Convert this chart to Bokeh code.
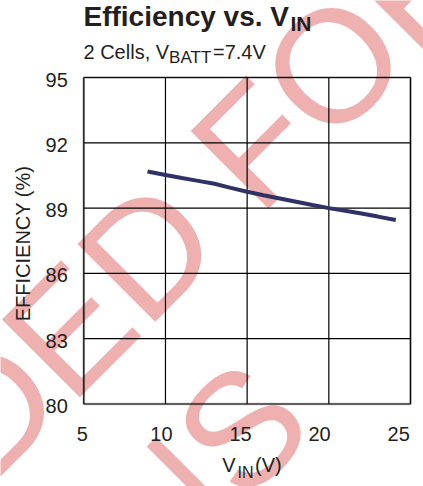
import math
from bokeh.plotting import figure
from bokeh.models import Label, Range1d, FixedTicker, LinearAxis, BoxAnnotation
from bokeh.embed import file_html
from bokeh.resources import INLINE

# ---- data ----
vin = [8.9, 10, 11, 12, 13, 14, 15, 16, 17, 18, 19, 20, 21, 22, 23, 24.1]
eff = [90.68, 90.52, 90.38, 90.25, 90.12, 89.93, 89.75, 89.59, 89.44, 89.29,
       89.14, 89.0, 88.88, 88.75, 88.61, 88.45]
x_ticks = [5, 10, 15, 20, 25]
y_ticks = [80, 83, 86, 89, 92, 95]

title_main = "Efficiency vs. V"
title_sub = "IN"
subtitle_a = "2 Cells, V"
subtitle_b = "BATT"
subtitle_c = "=7.4V"
xlabel_a = "V"
xlabel_b = "IN"
xlabel_c = "(V)"
ylabel = "EFFICIENCY (%)"
watermark_1 = "RECOMMENDED FOR"
watermark_2 = "NEW DESIGNS"

# ---- layout (canvas pixels) ----
W, H = 423, 486
FL, FR, FT, FB = 83.3, 410, 77, 403.5      # chart box inside the canvas
X0, X1, Y0, Y1 = 5, 25, 80, 95
FONT = "Liberation Sans"
INK = "#231f20"
MID = 0.3465          # distance from baseline to text middle, in em


def dx(px):
    return X0 + (px - FL) * (X1 - X0) / (FR - FL)


def dy(py):
    return Y1 - (py - FT) * (Y1 - Y0) / (FB - FT)


p = figure(width=W, height=H,
           x_range=Range1d(dx(0), dx(W)), y_range=Range1d(dy(H), dy(0)),
           output_backend="svg", toolbar_location=None,
           x_axis_location=None, y_axis_location=None, title_location=None,
           min_border=0)
p.min_border_left = p.min_border_right = p.min_border_top = p.min_border_bottom = 0
p.background_fill_color = "white"
p.border_fill_color = "white"
p.outline_line_color = None
p.xgrid.visible = False
p.ygrid.visible = False

# tick-label scales (labels in the original sit slightly off their grid lines)
XL_C, XL_P, XL_S = 15, 240.0, 15.82     # value, pixel, pixels per unit
YL_SHIFT = 2.0
p.extra_x_ranges = {"xlab": Range1d(XL_C + (0 - XL_P) / XL_S, XL_C + (W - XL_P) / XL_S)}
p.extra_y_ranges = {"ylab": Range1d(dy(H - YL_SHIFT), dy(0 - YL_SHIFT))}

# watermark (behind everything), rotated 45 degrees; anchor = text middle
WM_SIZE = 160
wm_off = MID * WM_SIZE / math.sqrt(2)
for txt, bx, by in ((watermark_1, 497.4, -21.4), (watermark_2, 318.1, 429.5)):
    p.add_layout(Label(x=dx(bx - wm_off), y=dy(by - wm_off), text=txt,
                       angle=math.pi / 4, text_align="right", text_baseline="middle",
                       text_font=FONT, text_font_size=f"{WM_SIZE}px",
                       text_color="#efb0b0", level="image"))

# grid lines at the tick values
p.segment(x0=x_ticks, y0=Y0, x1=x_ticks, y1=Y1, line_color="black", line_width=1.2)
p.segment(x0=X0, y0=y_ticks, x1=X1, y1=y_ticks, line_color="black", line_width=1.2)

# data line
p.line(vin, eff, line_color="#2f3264", line_width=4)

# chart box
p.add_layout(BoxAnnotation(left=X0, right=X1, bottom=Y0, top=Y1,
                           fill_color=None, line_color="#1a1a1a", line_width=2.6))

# axes fixed at the chart box edges
xax = LinearAxis(fixed_location=Y0, x_range_name="xlab", ticker=FixedTicker(ticks=x_ticks))
yax = LinearAxis(fixed_location=X0, y_range_name="ylab", ticker=FixedTicker(ticks=y_ticks))
for ax in (xax, yax):
    ax.axis_line_color = None
    ax.major_tick_line_color = None
    ax.minor_tick_line_color = None
    ax.major_label_text_font = FONT
    ax.major_label_text_font_size = "20px"
    ax.major_label_text_color = INK
xax.major_label_standoff = 17
yax.major_label_standoff = 10
yax.axis_label = ylabel
yax.axis_label_text_font = FONT
yax.axis_label_text_font_size = "20px"
yax.axis_label_text_font_style = "normal"
yax.axis_label_text_color = INK
yax.axis_label_standoff = 8
p.add_layout(xax, "below")
p.add_layout(yax, "left")


def lab(text, px, base_y, size, bold=False):
    # base_y is the text baseline; the label is anchored at the text middle
    p.add_layout(Label(x=dx(px), y=dy(base_y - MID * size), text=text,
                       text_align="left", text_baseline="middle", text_font=FONT,
                       text_font_size=f"{size}px",
                       text_font_style="bold" if bold else "normal",
                       text_color=INK))


# title
lab(title_main, 83, 26, 28, bold=True)
lab(title_sub, 290, 30, 21, bold=True)
# subtitle
lab(subtitle_a, 83, 58.3, 20)
lab(subtitle_b, 168.6, 62.7, 17)
lab(subtitle_c, 212.5, 58.3, 20)
# x axis label
lab(xlabel_a, 221.7, 471.7, 20)
lab(xlabel_b, 237, 477.5, 16)
lab(xlabel_c, 254.5, 471.7, 20)

open("out.html", "w").write(file_html(p, INLINE))
